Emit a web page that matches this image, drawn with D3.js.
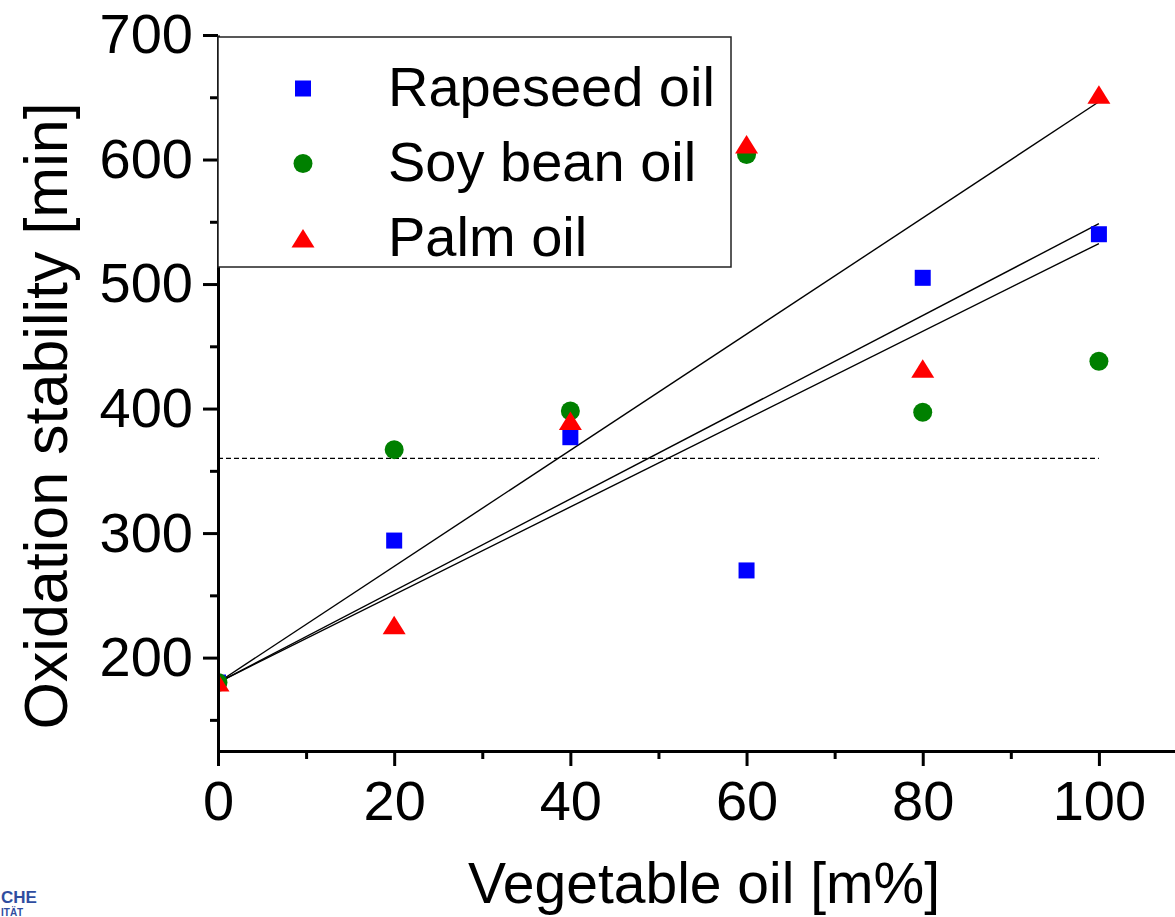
<!DOCTYPE html>
<html>
<head>
<meta charset="utf-8">
<script src="https://cdn.jsdelivr.net/npm/d3@7"></script>
<style>
    body { margin: 0; background: white; }
    text { font-family: "Liberation Sans", Arial, sans-serif; }
</style>
</head>
<body>
<div id="chart-area"></div>
<script>
// data
var oilShare = [0, 20, 40, 60, 80, 100];
var rapeseed = [180, 294, 377, 270, 505, 540];
var soyBean = [180, 367, 398, 604, 397, 438];
var palm = [180, 226, 390, 612, 432, 652];
var seriesNames = ["Rapeseed oil", "Soy bean oil", "Palm oil"];
var limitValue = 360;

var xTicks = [0, 20, 40, 60, 80, 100];
var xMinorTicks = [10, 30, 50, 70, 90, 110];
var yTicks = [200, 300, 400, 500, 600, 700];
var yMinorTicks = [150, 250, 350, 450, 550, 650];

var margin = { left: 218, top: 35 };
var width = 969;
var height = 716;

var colors = ["#0000ff", "#008000", "#ff0000"];
var shapes = ["square", "circle", "triangle"];

var svg = d3.select("#chart-area").append("svg")
    .attr("width", 1175)
    .attr("height", 917);

var g = svg.append("g")
    .attr("transform", "translate(" + margin.left + ", " + margin.top + ")");

var x = d3.scaleLinear()
    .domain([0, 110])
    .range([0, width]);

var y = d3.scaleLinear()
    .domain([125, 700])
    .range([height, 0]);

var series = [rapeseed, soyBean, palm].map((vals, i) => ({
    name: seriesNames[i],
    color: colors[i],
    shape: shapes[i],
    points: oilShare.map((s, j) => ({ x: s, y: vals[j] }))
}));

// linear fit with the intercept held at the 0 % value
series.forEach((s) => {
    var y0 = s.points[0].y;
    var sxy = d3.sum(s.points, (p) => p.x * (p.y - y0));
    var sxx = d3.sum(s.points, (p) => p.x * p.x);
    var slope = sxy / sxx;
    s.fit = [{ x: 0, y: y0 }, { x: 100, y: y0 + slope * 100 }];
});

svg.append("defs").append("clipPath")
    .attr("id", "plot-clip")
    .append("rect")
        .attr("x", 0)
        .attr("y", -20)
        .attr("width", width)
        .attr("height", height + 20);

var line = d3.line()
    .x((d) => x(d.x))
    .y((d) => y(d.y));

// fit lines
g.selectAll(".fit")
    .data(series)
    .enter()
    .append("path")
        .attr("class", "fit")
        .attr("d", (d) => line(d.fit))
        .attr("fill", "none")
        .attr("stroke", "black")
        .attr("stroke-width", 1.4);

// limit line
g.append("line")
    .attr("x1", x(0))
    .attr("x2", x(100))
    .attr("y1", y(limitValue))
    .attr("y2", y(limitValue))
    .attr("stroke", "black")
    .attr("stroke-width", 1.2)
    .attr("stroke-dasharray", "5,3");

function marker(sel, shape, color) {
    if (shape === "square") {
        sel.append("rect")
            .attr("x", -8).attr("y", -8)
            .attr("width", 16).attr("height", 16)
            .attr("fill", color);
    } else if (shape === "circle") {
        sel.append("circle")
            .attr("r", 9.5)
            .attr("fill", color);
    } else {
        sel.append("path")
            .attr("d", "M0,-9.5L11.5,9L-11.5,9Z")
            .attr("fill", color);
    }
}

var marks = g.append("g").attr("clip-path", "url(#plot-clip)");

series.forEach((s) => {
    marks.selectAll(".pt-" + s.shape)
        .data(s.points)
        .enter()
        .append("g")
            .attr("class", "pt-" + s.shape)
            .attr("transform", (d) => "translate(" + x(d.x) + "," + y(d.y) + ")")
            .each(function () { marker(d3.select(this), s.shape, s.color); });
});

// x Axis
g.append("g")
    .attr("class", "x minor")
    .attr("transform", "translate(0, " + height + ")")
    .call(d3.axisBottom(x).tickValues(xMinorTicks).tickSize(8).tickFormat(""))
    .call((a) => a.select(".domain").remove());

g.append("g")
    .attr("class", "x axis")
    .attr("transform", "translate(0, " + height + ")")
    .call(d3.axisBottom(x).tickValues(xTicks).tickSize(15).tickSizeOuter(0).tickPadding(14));

// y Axis
g.append("g")
    .attr("class", "y minor")
    .call(d3.axisLeft(y).tickValues(yMinorTicks).tickSize(8).tickFormat(""))
    .call((a) => a.select(".domain").remove());

g.append("g")
    .attr("class", "y axis")
    .call(d3.axisLeft(y).tickValues(yTicks).tickSize(15).tickSizeOuter(0).tickPadding(10));

g.selectAll(".domain")
    .attr("stroke", "black")
    .attr("stroke-width", 3);

g.selectAll(".tick line")
    .attr("stroke", "black")
    .attr("stroke-width", 3);

g.selectAll(".tick text")
    .attr("fill", "black")
    .style("font-family", "'Liberation Sans', Arial, sans-serif")
    .style("font-size", "56px");

// axis titles
svg.append("text")
    .attr("x", 704)
    .attr("y", 903)
    .attr("text-anchor", "middle")
    .style("font-size", "57px")
    .text("Vegetable oil [m%]");

svg.append("text")
    .attr("transform", "translate(67, 416) rotate(-90)")
    .attr("text-anchor", "middle")
    .style("font-size", "61px")
    .text("Oxidation stability [min]");

// legend
var legend = svg.append("g")
    .attr("transform", "translate(218, 37)");

legend.append("rect")
    .attr("width", 513)
    .attr("height", 230)
    .attr("fill", "white")
    .attr("stroke", "#222")
    .attr("stroke-width", 1.5);

series.forEach((s, i) => {
    var row = legend.append("g")
        .attr("transform", "translate(85, " + (51.5 + i * 75) + ")");
    marker(row, s.shape, s.color);
    row.append("text")
        .attr("x", 85)
        .attr("y", 17)
        .style("font-size", "56px")
        .text(s.name);
});

// logo remnant at the bottom left
svg.append("text")
    .attr("x", 1)
    .attr("y", 903)
    .attr("fill", "#2f4da0")
    .style("font-size", "17px")
    .style("font-weight", "bold")
    .text("CHE");

svg.append("text")
    .attr("x", 1)
    .attr("y", 916)
    .attr("fill", "#2f4da0")
    .style("font-size", "10px")
    .style("font-weight", "bold")
    .text("ITÄT");
</script>
</body>
</html>
